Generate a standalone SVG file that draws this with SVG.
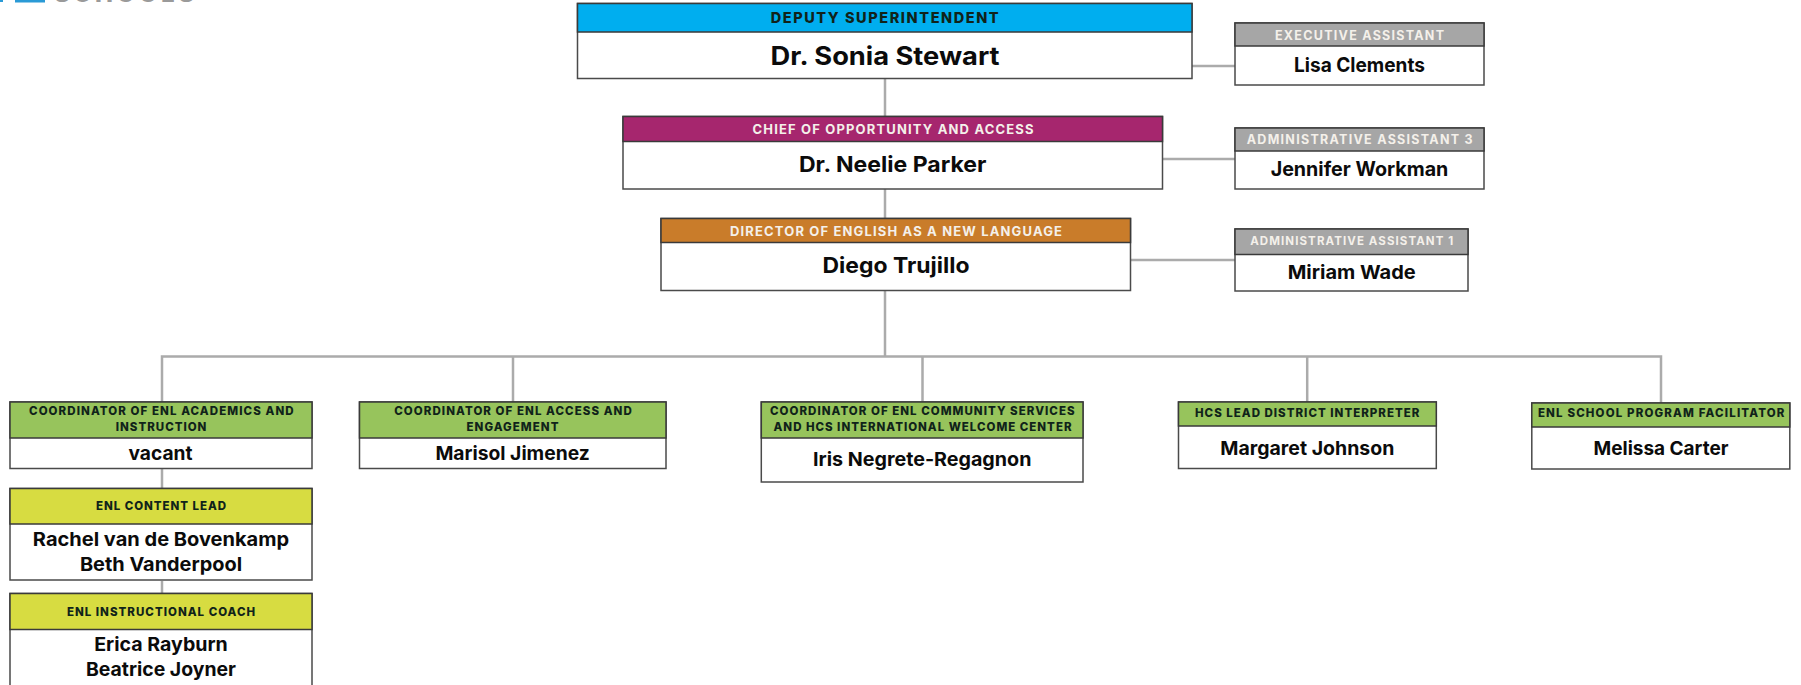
<svg xmlns="http://www.w3.org/2000/svg" width="1801" height="685" viewBox="0 0 1801 685">
<style>
.b{fill:#fff;stroke:#4a4a4a;stroke-width:1.5}
.h{stroke:#3a3a3a;stroke-width:1.5}
.c{fill:none;stroke:#ababab;stroke-width:2.5}
text{font-family:"Inter","Liberation Sans",sans-serif;text-anchor:middle}
.t{font-weight:800;fill:#10231a}
.w{font-weight:700;fill:#f4f0ea}
.n{font-weight:700;fill:#0b0b0b}
</style>
<rect width="1801" height="685" fill="#fff"/>
<g id="logo">
<rect x="0" y="0" width="3" height="2" fill="#2a9ad6"/>
<rect x="15" y="0" width="30" height="2.5" fill="#2a9ad6"/>
<text x="124" y="2" font-size="24" font-weight="800" fill="#9a9a9a" textLength="140">SCHOOLS</text>
</g>
<g id="connectors" class="c">
<path d="M885 78V117M885 189V219M885 291V357"/>
<path d="M1192 66H1235M1162 159H1235M1131 260H1235"/>
<path d="M162 402V356.5H1661V403"/>
<path d="M513 357V402M922.5 357V402M1307.2 357V402"/>
<path d="M162 469V489M162 581V594"/>
</g>
<g id="deputy"><rect class="b" x="577.5" y="3.5" width="614.5" height="75"/><rect class="h" x="577.5" y="3.5" width="614.5" height="28.5" fill="#00aeef"/>
<text class="t" x="884.7" y="22.7" font-size="14.5" textLength="228">DEPUTY SUPERINTENDENT</text>
<text class="n" x="885" y="64.5" font-size="25" textLength="229" lengthAdjust="spacingAndGlyphs">Dr. Sonia Stewart</text></g>
<g id="chief"><rect class="b" x="623" y="116.5" width="539.5" height="72.5"/><rect class="h" x="623" y="116.5" width="539.5" height="25" fill="#a6266e"/>
<text class="w" x="893" y="134" font-size="13" textLength="281">CHIEF OF OPPORTUNITY AND ACCESS</text>
<text class="n" x="892.7" y="172" font-size="21.5" textLength="187.5" lengthAdjust="spacingAndGlyphs">Dr. Neelie Parker</text></g>
<g id="director"><rect class="b" x="661" y="218.5" width="469.5" height="72"/><rect class="h" x="661" y="218.5" width="469.5" height="24" fill="#c97c2a"/>
<text class="w" x="896" y="236" font-size="13" textLength="332">DIRECTOR OF ENGLISH AS A NEW LANGUAGE</text>
<text class="n" x="896" y="273.3" font-size="21.5" textLength="147" lengthAdjust="spacingAndGlyphs">Diego Trujillo</text></g>
<g id="exec-assistant"><rect class="b" x="1235" y="23" width="249" height="62"/><rect class="h" x="1235" y="23" width="249" height="23" fill="#a6a6a6"/>
<text class="w" x="1359.5" y="40" font-size="12.5" textLength="169">EXECUTIVE ASSISTANT</text>
<text class="n" x="1359.5" y="72" font-size="20" textLength="131" lengthAdjust="spacingAndGlyphs">Lisa Clements</text></g>
<g id="admin-3"><rect class="b" x="1235" y="128" width="249" height="61"/><rect class="h" x="1235" y="128" width="249" height="23" fill="#a6a6a6"/>
<text class="w" x="1359.7" y="144" font-size="12.5" textLength="226">ADMINISTRATIVE ASSISTANT 3</text>
<text class="n" x="1359.5" y="175.7" font-size="20" textLength="177.7" lengthAdjust="spacingAndGlyphs">Jennifer Workman</text></g>
<g id="admin-1"><rect class="b" x="1235" y="229" width="233" height="62"/><rect class="h" x="1235" y="229" width="233" height="25.5" fill="#a6a6a6"/>
<text class="w" x="1351.7" y="245.3" font-size="11.5" textLength="203">ADMINISTRATIVE ASSISTANT 1</text>
<text class="n" x="1351.7" y="278.7" font-size="19" textLength="128" lengthAdjust="spacingAndGlyphs">Miriam Wade</text></g>
<g id="coord-academics"><rect class="b" x="10" y="402" width="302" height="66.5"/><rect class="h" x="10" y="402" width="302" height="36" fill="#97c45c"/>
<text class="t" x="161.3" y="415" font-size="11.5" textLength="264.6">COORDINATOR OF ENL ACADEMICS AND</text>
<text class="t" x="161.1" y="431" font-size="11.5" textLength="90.6">INSTRUCTION</text>
<text class="n" x="160.5" y="459.5" font-size="19" textLength="64" lengthAdjust="spacingAndGlyphs">vacant</text></g>
<g id="coord-access"><rect class="b" x="359.5" y="402" width="306.5" height="66.5"/><rect class="h" x="359.5" y="402" width="306.5" height="36" fill="#97c45c"/>
<text class="t" x="513" y="415" font-size="11.5" textLength="237.6">COORDINATOR OF ENL ACCESS AND</text>
<text class="t" x="512.5" y="431" font-size="11.5" textLength="92">ENGAGEMENT</text>
<text class="n" x="512.6" y="459.5" font-size="19" textLength="154.4" lengthAdjust="spacingAndGlyphs">Marisol Jimenez</text></g>
<g id="coord-community"><rect class="b" x="761.3" y="402" width="321.7" height="80"/><rect class="h" x="761.3" y="402" width="321.7" height="36" fill="#97c45c"/>
<text class="t" x="922.3" y="415" font-size="11.5" textLength="304.6">COORDINATOR OF ENL COMMUNITY SERVICES</text>
<text class="t" x="922.5" y="431" font-size="11.5" textLength="298">AND HCS INTERNATIONAL WELCOME CENTER</text>
<text class="n" x="922.2" y="466" font-size="19" textLength="218.4" lengthAdjust="spacingAndGlyphs">Iris Negrete-Regagnon</text></g>
<g id="hcs-interpreter"><rect class="b" x="1178.5" y="402" width="257.8" height="66.5"/><rect class="h" x="1178.5" y="402" width="257.8" height="24" fill="#97c45c"/>
<text class="t" x="1307.2" y="416.5" font-size="11.5" textLength="224.5">HCS LEAD DISTRICT INTERPRETER</text>
<text class="n" x="1307.3" y="454.5" font-size="19" textLength="174" lengthAdjust="spacingAndGlyphs">Margaret Johnson</text></g>
<g id="program-facilitator"><rect class="b" x="1531.8" y="403" width="258" height="66"/><rect class="h" x="1531.8" y="403" width="258" height="24" fill="#97c45c"/>
<text class="t" x="1661.2" y="417" font-size="11.5" textLength="246.5">ENL SCHOOL PROGRAM FACILITATOR</text>
<text class="n" x="1661" y="454.5" font-size="19" textLength="135" lengthAdjust="spacingAndGlyphs">Melissa Carter</text></g>
<g id="content-lead"><rect class="b" x="10" y="488.5" width="302" height="91.5"/><rect class="h" x="10" y="488.5" width="302" height="35.5" fill="#d7dc41"/>
<text class="t" x="161" y="509.5" font-size="11.5" textLength="130">ENL CONTENT LEAD</text>
<text class="n" x="161" y="546" font-size="19" textLength="256.3" lengthAdjust="spacingAndGlyphs">Rachel van de Bovenkamp</text>
<text class="n" x="161" y="571" font-size="19" textLength="162.2" lengthAdjust="spacingAndGlyphs">Beth Vanderpool</text></g>
<g id="instructional-coach"><rect class="b" x="10" y="593.5" width="302" height="100"/><rect class="h" x="10" y="593.5" width="302" height="36" fill="#d7dc41"/>
<text class="t" x="161" y="615.5" font-size="11.5" textLength="188.2">ENL INSTRUCTIONAL COACH</text>
<text class="n" x="161" y="650.5" font-size="19" textLength="133.6" lengthAdjust="spacingAndGlyphs">Erica Rayburn</text>
<text class="n" x="161" y="675.5" font-size="19" textLength="150" lengthAdjust="spacingAndGlyphs">Beatrice Joyner</text></g>
</svg>
